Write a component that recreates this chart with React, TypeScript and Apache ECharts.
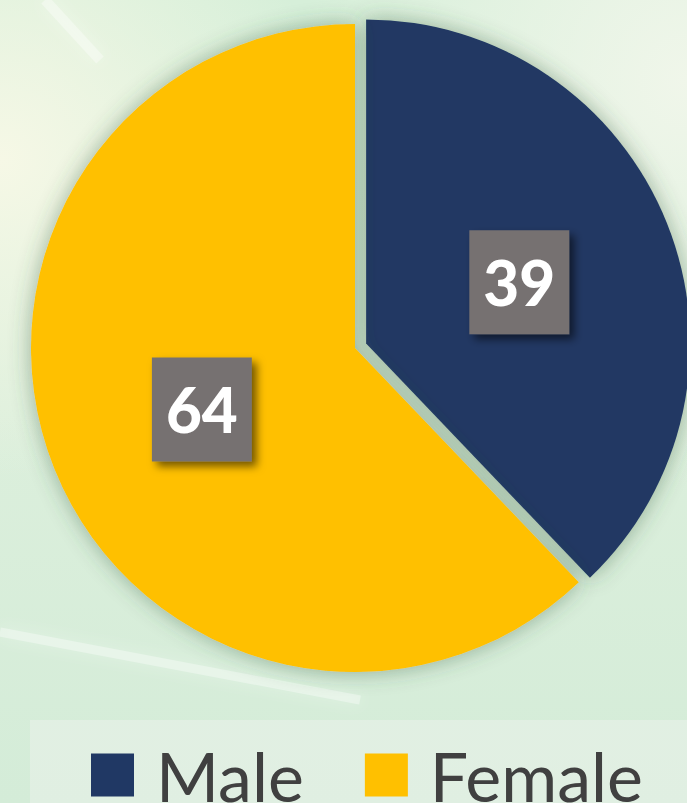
import React, { useEffect, useRef } from "react";
import * as echarts from "echarts";

const categories = ["Male", "Female"];
const values = [39, 64];
const colors = ["#203864", "#FFC000"];

export default function App() {
  const ref = useRef<HTMLDivElement>(null);
  useEffect(() => {
    document.body.style.margin = "0";
    const chart = echarts.init(ref.current!, null, { renderer: "svg" });
    chart.setOption({
      animation: false,
      graphic: [
        {
          type: "line",
          shape: { x1: 45, y1: 0, x2: 100, y2: 60 },
          style: { stroke: "rgba(255,255,255,0.35)", lineWidth: 10, shadowBlur: 16, shadowColor: "rgba(255,255,255,0.8)" },
          silent: true,
        },
        {
          type: "line",
          shape: { x1: 0, y1: 632, x2: 360, y2: 700 },
          style: { stroke: "rgba(255,255,255,0.35)", lineWidth: 9, shadowBlur: 16, shadowColor: "rgba(255,255,255,0.8)" },
          silent: true,
        },
        {
          type: "rect",
          shape: { x: 30, y: 720, width: 657, height: 83 },
          style: { fill: "rgba(240,245,240,0.45)" },
          silent: true,
          z: -1,
        },
      ],
      legend: {
        data: categories,
        left: 86,
        top: 736,
        itemWidth: 43,
        itemHeight: 43,
        itemGap: 61,
        icon: "rect",
        textStyle: {
          fontFamily: "Lato",
          fontSize: 68,
          color: "#404040",
          padding: [0, 0, 0, 17],
        },
      },
      series: [
        {
          type: "pie",
          center: [355, 348],
          radius: 324,
          startAngle: 90,
          clockwise: true,
          selectedMode: "single",
          selectedOffset: 12,
          emphasis: { disabled: true },
          itemStyle: {
            shadowBlur: 22,
            shadowColor: "rgba(50,90,60,0.45)",
          },
          label: {
            show: true,
            position: "inside",
            formatter: "{c}",
            color: "#ffffff",
            fontFamily: "Lato",
            fontWeight: 900,
            fontSize: 62,
            lineHeight: 62,
            backgroundColor: "#767171",
            padding: [21, 14, 21, 14],
            shadowColor: "rgba(0,0,0,0.55)",
            shadowBlur: 8,
            shadowOffsetX: 5,
            shadowOffsetY: 5,
          },
          labelLine: { show: false },
          data: categories.map((name, i) => ({
            name,
            value: values[i],
            selected: i === 0,
            itemStyle: { color: colors[i] },
          })),
        },
      ],
    });
    return () => chart.dispose();
  }, []);
  return (
    <div
      ref={ref}
      style={{
        width: 687,
        height: 803,
        background:
          "radial-gradient(ellipse at 0% 20%, #f6f8e6 0%, rgba(246,248,230,0) 35%), radial-gradient(ellipse at 100% 10%, #f0f6ea 0%, rgba(240,246,234,0) 40%), linear-gradient(180deg, #d6efd9 0%, #dcefdc 50%, #d4ecd8 100%)",
      }}
    />
  );
}
